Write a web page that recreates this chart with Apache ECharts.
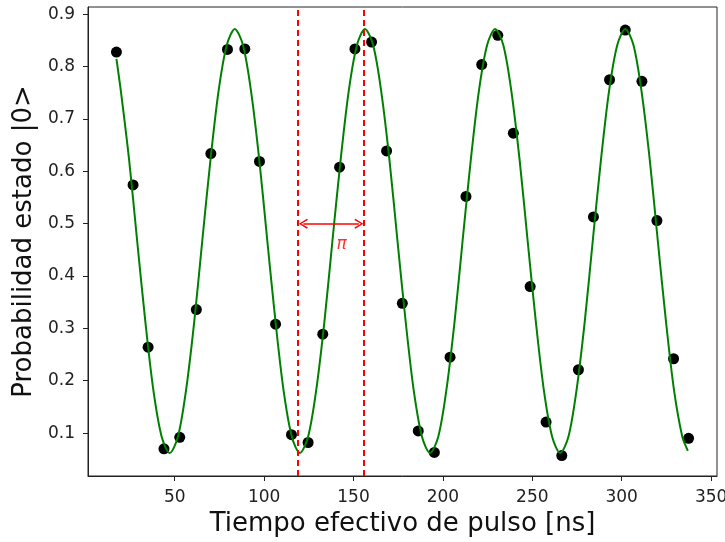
<!DOCTYPE html>
<html><head><meta charset="utf-8">
<script src="https://cdn.jsdelivr.net/npm/echarts@6/dist/echarts.min.js"></script>
<style>html,body{margin:0;padding:0;background:#fff}#c{width:725px;height:542px}</style>
</head><body><div id="c"></div>
<script>
// Measured data points
var tData = [17.4, 26.7, 35.1, 44.0, 52.8, 62.1, 70.2, 79.5, 89.2, 97.4, 106.4, 115.3, 124.6, 132.8, 142.2, 150.8, 160.1, 168.5, 177.3, 186.2, 195.2, 204.0, 212.9, 221.7, 230.7, 239.4, 248.8, 257.7, 266.5, 275.8, 284.2, 293.2, 302.0, 311.3, 319.7, 329.0, 337.4];
var pData = [0.828, 0.574, 0.264, 0.070, 0.092, 0.336, 0.634, 0.833, 0.834, 0.619, 0.308, 0.097, 0.082, 0.289, 0.608, 0.834, 0.847, 0.639, 0.348, 0.104, 0.063, 0.245, 0.552, 0.804, 0.860, 0.673, 0.380, 0.121, 0.057, 0.221, 0.513, 0.775, 0.870, 0.772, 0.506, 0.242, 0.090];
// Fitted curve
var tFit = [17.4, 19.9, 24.5, 29.0, 33.6, 38.1, 42.7, 47.2,
  51.8, 56.3, 60.9, 65.4, 70.0, 74.5, 79.1, 83.6,
  88.2, 92.7, 97.3, 101.8, 106.4, 110.9, 115.5, 120.0,
  124.6, 129.1, 133.7, 138.2, 142.8, 147.3, 151.9, 156.4,
  161.0, 165.5, 170.1, 174.6, 179.2, 183.7, 188.3, 192.8,
  197.4, 201.9, 206.5, 211.0, 215.6, 220.1, 224.7, 229.2,
  233.8, 238.3, 242.9, 247.4, 252.0, 256.5, 261.1, 265.6,
  270.2, 274.7, 279.3, 283.8, 288.4, 292.9, 297.5, 302.0,
  306.6, 311.1, 315.7, 320.2, 324.8, 329.3, 333.9, 337.0];
var pFit = [0.815, 0.753, 0.622, 0.467, 0.312, 0.181, 0.093, 0.062,
  0.093, 0.181, 0.312, 0.467, 0.622, 0.753, 0.841, 0.872,
  0.841, 0.753, 0.622, 0.467, 0.312, 0.181, 0.093, 0.062,
  0.093, 0.181, 0.312, 0.467, 0.622, 0.753, 0.841, 0.872,
  0.841, 0.753, 0.622, 0.467, 0.312, 0.181, 0.093, 0.062,
  0.093, 0.181, 0.312, 0.467, 0.622, 0.753, 0.841, 0.872,
  0.841, 0.753, 0.622, 0.467, 0.312, 0.181, 0.093, 0.062,
  0.093, 0.181, 0.312, 0.467, 0.622, 0.753, 0.841, 0.872,
  0.841, 0.753, 0.622, 0.467, 0.312, 0.181, 0.093, 0.066];
var xTicks = [50, 100, 150, 200, 250, 300, 350];
var yTicks = [0.1, 0.2, 0.3, 0.4, 0.5, 0.6, 0.7, 0.8, 0.9];
var piLines = [119.0, 155.5];
var arrowFrom = [122, 0.5], arrowTo = [153, 0.5];
var piLabel = [143.3, 0.46];

var ptSeries = tData.map(function(t, i){ return [t, pData[i]]; });
var fitSeries = tFit.map(function(t, i){ return [t, pFit[i]]; });
var FONT = 'DejaVu Sans';
var chart = echarts.init(document.getElementById('c'), null, {renderer: 'canvas'});
chart.setOption({
  animation: false,
  backgroundColor: '#fff',
  grid: {left: 88, right: 8, top: 7, bottom: 66, show: true, borderColor: '#222', borderWidth: 1,
    containLabel: false, outerBoundsMode: 'none'},
  xAxis: {
    type: 'value', min: 1.5, max: 353.3,
    name: 'Tiempo efectivo de pulso [ns]', nameLocation: 'middle', nameGap: 35,
    nameTextStyle: {fontFamily: FONT, fontSize: 26, color: '#111'},
    axisLine: {show: true, onZero: false, lineStyle: {color: '#222', width: 1}},
    axisTick: {show: true, length: 5, lineStyle: {color: '#222'}, customValues: xTicks},
    axisLabel: {fontFamily: FONT, fontSize: 17, color: '#222', margin: 13, customValues: xTicks},
    splitLine: {show: false}
  },
  yAxis: {
    type: 'value', min: 0.018, max: 0.914,
    name: 'Probabilidad estado |0>', nameLocation: 'middle', nameGap: 50, nameRotate: 90,
    nameTextStyle: {fontFamily: FONT, fontSize: 26, color: '#111'},
    axisLine: {show: true, onZero: false, lineStyle: {color: '#222', width: 1}},
    axisTick: {show: true, length: 5, lineStyle: {color: '#222'}, customValues: yTicks},
    axisLabel: {fontFamily: FONT, fontSize: 17, color: '#222', margin: 13, customValues: yTicks,
      formatter: function(v){ return v.toFixed(1); }},
    splitLine: {show: false}
  },
  series: [
    {
      type: 'scatter', data: ptSeries, symbolSize: 11, z: 2,
      itemStyle: {color: '#000', opacity: 1}
    },
    {
      type: 'line', data: fitSeries, smooth: 0.3, symbol: 'none', z: 3,
      lineStyle: {color: '#008000', width: 2},
      markLine: {
        silent: true, symbol: ['none', 'none'], label: {show: false},
        lineStyle: {color: '#ff0000', type: [6, 4], width: 2},
        data: piLines.map(function(v){ return {xAxis: v}; })
      }
    },
    {
      type: 'line', data: [], z: 4,
      markLine: {
        silent: true,
        symbol: ['path://M5 0 L10 8 L8.8 9 L5 2.4 L1.2 9 L0 8 Z', 'path://M5 0 L10 8 L8.8 9 L5 2.4 L1.2 9 L0 8 Z'],
        symbolSize: [10, 9], label: {show: false},
        lineStyle: {color: '#ff0000', type: 'solid', width: 1.5},
        data: [[{coord: arrowFrom}, {coord: arrowTo}]]
      }
    },
    {
      type: 'scatter', data: [piLabel], symbolSize: 0, z: 5,
      label: {show: true, position: 'inside', formatter: 'π', color: '#ff0000',
        fontFamily: FONT, fontStyle: 'italic', fontSize: 17}
    }
  ]
});
</script></body></html>
